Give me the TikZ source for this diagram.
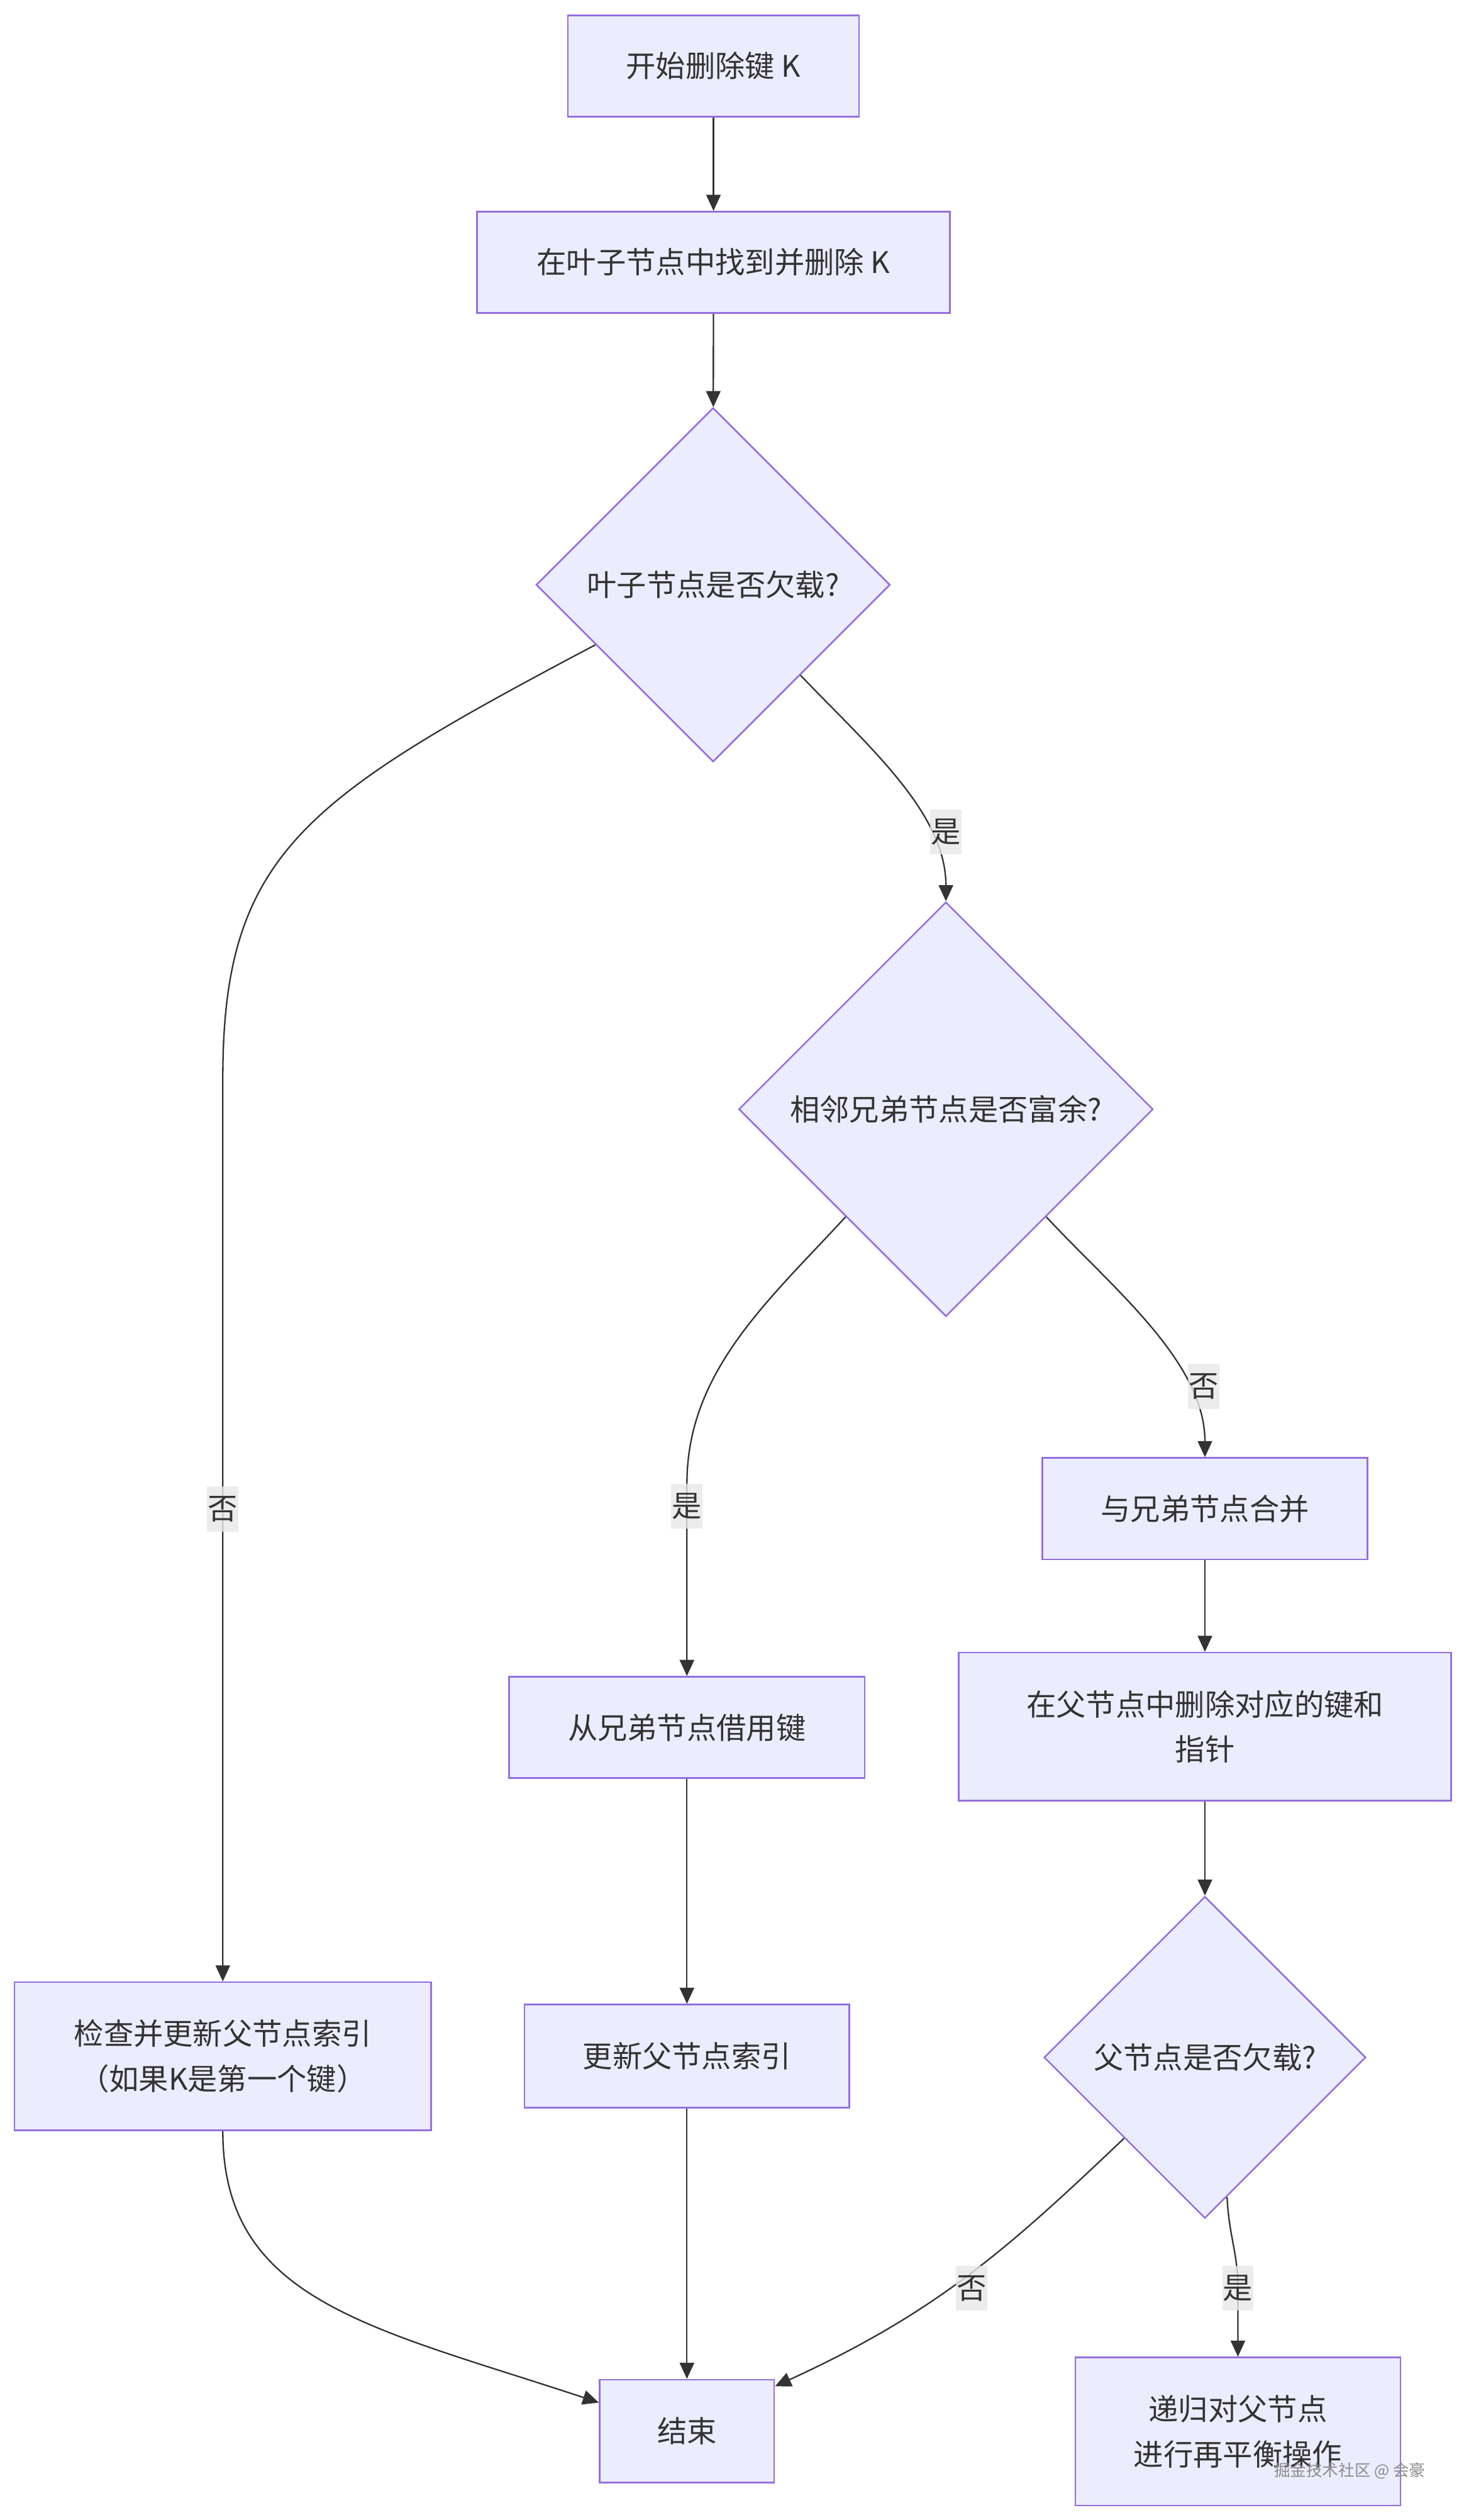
\documentclass[tikz,border=0pt]{standalone}
\usepackage{fontspec}
\setmainfont{Noto Sans CJK SC}
\usetikzlibrary{shapes.geometric,arrows.meta}
\definecolor{boxfill}{HTML}{ECECFF}
\definecolor{boxline}{HTML}{9370DB}
\definecolor{ink}{HTML}{333333}
\definecolor{lblfill}{HTML}{E8E8E8}
\tikzset{
	box/.style={rectangle,draw=boxline,fill=boxfill,line width=1pt,text=ink,align=center,inner sep=0pt,font=\fontsize{18.5}{28}\selectfont},
	ask/.style={diamond,aspect=1,draw=boxline,fill=boxfill,line width=1pt,text=ink,inner sep=0pt,font=\fontsize{18.5}{28}\selectfont},
	lbl/.style={fill=lblfill,fill opacity=0.8,text opacity=1,text=ink,inner xsep=0.5pt,inner ysep=0pt,minimum height=28pt,font=\fontsize{18.5}{28}\selectfont},
	link/.style={->,draw=ink,line width=0.9pt}
}
\begin{document}
\begin{tikzpicture}[x=1pt,y=1pt,>={Triangle[length=10pt,width=9pt]}]
	\useasboundingbox (0,0) rectangle (910,-1566);
	\fill[white] (0,0) rectangle (910,-1566);

	\begin{scope}[every node/.style={box,minimum height=63pt}]
		\node[minimum width=181pt] (start) at (443.5,-41) {开始删除键 K};
		\node[minimum width=294pt] (find) at (443.5,-163) {在叶子节点中找到并删除 K};
		\node[minimum width=202pt] (merge) at (749,-937.5) {与兄弟节点合并};
		\node[minimum width=306pt,minimum height=92pt] (delp) at (749,-1073) {在父节点中删除对应的键和\\指针};
		\node[minimum width=221pt] (borrow) at (427,-1073.5) {从兄弟节点借用键};
		\node[minimum width=202pt,minimum height=64pt] (updp) at (427,-1277.7) {更新父节点索引};
		\node[minimum width=259pt,minimum height=92pt] (check) at (138.5,-1277.8) {检查并更新父节点索引\\（如果K是第一个键）};
		\node[minimum width=108.5pt,minimum height=64pt] (done) at (427,-1510.8) {结束};
		\node[minimum width=202pt,minimum height=92pt] (recur) at (769.5,-1511) {递归对父节点\\进行再平衡操作};
	\end{scope}

	\begin{scope}[every node/.style=ask]
		\node[minimum size=220pt] (leafq) at (443.3,-363.4) {叶子节点是否欠载?};
		\node[minimum size=257.5pt] (sibq) at (588,-689.3) {相邻兄弟节点是否富余?};
		\node[minimum size=200pt] (parq) at (749,-1278.5) {父节点是否欠载?};
	\end{scope}

	\begin{scope}[every edge/.style={draw=ink,line width=0.9pt}]
		\path [->] (start) edge (find);
		\path [->] (find) edge (leafq);
		\path [->] (merge) edge (delp);
		\path [->] (delp) edge (parq);
		\path [->] (borrow) edge (updp);
		\path [->] (updp) edge (done);
	\end{scope}

	\draw[link] (leafq.207.8) .. controls (190,-496) and (138.5,-530) .. (138.5,-670) -- node[lbl,pos=.477]{否} (check);
	\draw[link] (leafq.-46.8) .. controls (540,-464) and (588,-505) .. (sibq.north) node[lbl] at (588,-517) {是};
	\draw[link] (sibq.227.3) .. controls (478,-808) and (427,-852) .. (427,-922) -- (borrow) node[lbl] at (427,-936) {是};
	\draw[link] (sibq.-47.4) .. controls (691,-800) and (749,-846) .. (merge.north) node[lbl] at (748.3,-861.5) {否};
	\draw[link] (parq.-135) .. controls (626,-1398) and (582,-1437) .. (done.27) node[lbl] at (604,-1422) {否};
	\draw[link] (parq.-81.9) .. controls (764,-1390) and (769.5,-1400) .. (769.5,-1422) node[lbl]{是} -- (recur);
	\draw[link] (check) .. controls (138.5,-1430) and (230,-1446) .. (done.162);

	\node[text=black!45,font=\fontsize{10}{12}\selectfont] (mark) at (839,-1535.5) {掘金技术社区 @ 会豪};
\end{tikzpicture}
\end{document}
